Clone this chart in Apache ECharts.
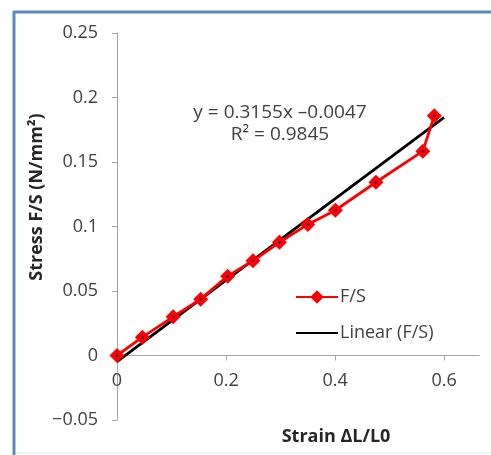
<!DOCTYPE html>
<html>
<head>
<meta charset="utf-8">
<script src="https://cdn.jsdelivr.net/npm/echarts@6/dist/echarts.min.js"></script>
<style>
html,body{margin:0;padding:0;background:#fff;}
#c{width:491px;height:455px;}
</style>
</head>
<body>
<div id="c"></div>
<script>
// Data
const strain = [0, 0.0465, 0.103, 0.1535, 0.203, 0.2495, 0.298, 0.35, 0.4006, 0.475, 0.561, 0.582];
const stress = [0, 0.0142, 0.030, 0.0437, 0.0615, 0.0734, 0.0878, 0.1016, 0.1126, 0.1343, 0.1584, 0.1858];
const trendStrain = [0, 0.6];
const trendStress = [-0.0047, 0.1846];
const xTicks = [0, 0.2, 0.4, 0.6];
const yTicks = [-0.05, 0, 0.05, 0.1, 0.15, 0.2, 0.25];
const seriesName = 'F/S';
const trendName = 'Linear (F/S)';
const equationLine = 'y = 0.3155x \u20130.0047';
const r2Line = 'R\u00b2 = 0.9845';
const xTitle = 'Strain \u0394L/L0';
const yTitle = 'Stress F/S (N/mm\u00b2)';

const FONT = 'Open Sans';
const LABEL_COLOR = '#404040';
const DIAMOND = 'path://M0,-1 L1,0 L0,1 L-1,0 Z';

const pts = strain.map((x, i) => [x, stress[i]]);
const trendPts = trendStrain.map((x, i) => [x, trendStress[i]]);

const yMin = -0.05, yMax = 0.25;
const gridTop = 33, gridBottom = 35, H = 455;
const plotH = H - gridTop - gridBottom;
// shift the x axis up so that it sits on y = 0
const xAxisOffset = -plotH * (0 - yMin) / (yMax - yMin);

const chart = echarts.init(document.getElementById('c'), null, {renderer: 'canvas'});
chart.setOption({
  animation: false,
  backgroundColor: '#ffffff',
  grid: {left: 117, right: 12, top: gridTop, bottom: gridBottom, containLabel: false},
  xAxis: {
    type: 'value',
    min: 0, max: 0.664, interval: 0.2,
    offset: xAxisOffset,
    splitLine: {show: false},
    axisLine: {show: true, onZero: false, lineStyle: {color: '#a6a6a6', width: 1}},
    axisTick: {show: true, inside: false, length: 5, customValues: xTicks, lineStyle: {color: '#a6a6a6'}},
    axisLabel: {
      customValues: xTicks, margin: 16, fontFamily: FONT, fontSize: 18, color: LABEL_COLOR,
      formatter: v => String(Math.round(v * 100) / 100)
    }
  },
  yAxis: {
    type: 'value',
    min: yMin, max: yMax, interval: 0.05,
    splitLine: {show: false},
    axisLine: {show: true, onZero: false, lineStyle: {color: '#a6a6a6', width: 1}},
    axisTick: {show: true, inside: false, length: 5, customValues: yTicks, lineStyle: {color: '#a6a6a6'}},
    axisLabel: {
      customValues: yTicks, margin: 19, fontFamily: FONT, fontSize: 18, color: LABEL_COLOR,
      formatter: v => { const r = Math.round(v * 1000) / 1000; return r < 0 ? '\u2212' + String(-r) : String(r); }
    }
  },
  legend: {
    data: [seriesName, trendName],
    orient: 'vertical',
    left: 290, top: 283,
    itemWidth: 42, itemHeight: 17, itemGap: 18,
    textStyle: {fontFamily: FONT, fontSize: 18, color: LABEL_COLOR, padding: [0, 0, 0, -3]}
  },
  series: [
    {
      name: trendName, type: 'line', data: trendPts,
      symbol: 'none', z: 2,
      lineStyle: {color: '#000000', width: 2.8},
      itemStyle: {color: 'rgba(0,0,0,0)', borderWidth: 0}
    },
    {
      name: seriesName, type: 'line', data: pts,
      symbol: DIAMOND, symbolSize: 15, z: 3,
      lineStyle: {color: '#ff0000', width: 2.8},
      itemStyle: {color: '#ff0000', borderColor: '#ff0000', borderWidth: 0}
    },
    {
      name: 'dots', type: 'scatter', data: pts,
      symbol: 'circle', symbolSize: 3, z: 4,
      itemStyle: {color: '#1f1f70'}, silent: true
    }
  ],
  graphic: [
    {type: 'line', shape: {x1: 14, y1: 11, x2: 14, y2: 455}, style: {stroke: '#5a8cc2', lineWidth: 3}},
    {type: 'line', shape: {x1: 13, y1: 12, x2: 491, y2: 12}, style: {stroke: '#5a8cc2', lineWidth: 3}},
    {type: 'line', shape: {x1: 16, y1: 453, x2: 491, y2: 453}, style: {stroke: '#e6e6e6', lineWidth: 1}},
    {type: 'text', x: 280, y: 113, style: {text: equationLine, font: '19px "Open Sans"', fill: LABEL_COLOR, textAlign: 'center', textVerticalAlign: 'middle'}},
    {type: 'text', x: 280, y: 135, style: {text: r2Line, font: '19px "Open Sans"', fill: LABEL_COLOR, textAlign: 'center', textVerticalAlign: 'middle'}},
    {type: 'text', x: 336, y: 437, style: {text: xTitle, font: 'bold 18px "Open Sans"', fill: '#262626', textAlign: 'center', textVerticalAlign: 'middle'}},
    {type: 'text', x: 37, y: 197, rotation: Math.PI / 2, style: {text: yTitle, font: 'bold 18px "Open Sans"', fill: '#262626', textAlign: 'center', textVerticalAlign: 'middle'}}
  ]
});
</script>
</body>
</html>
